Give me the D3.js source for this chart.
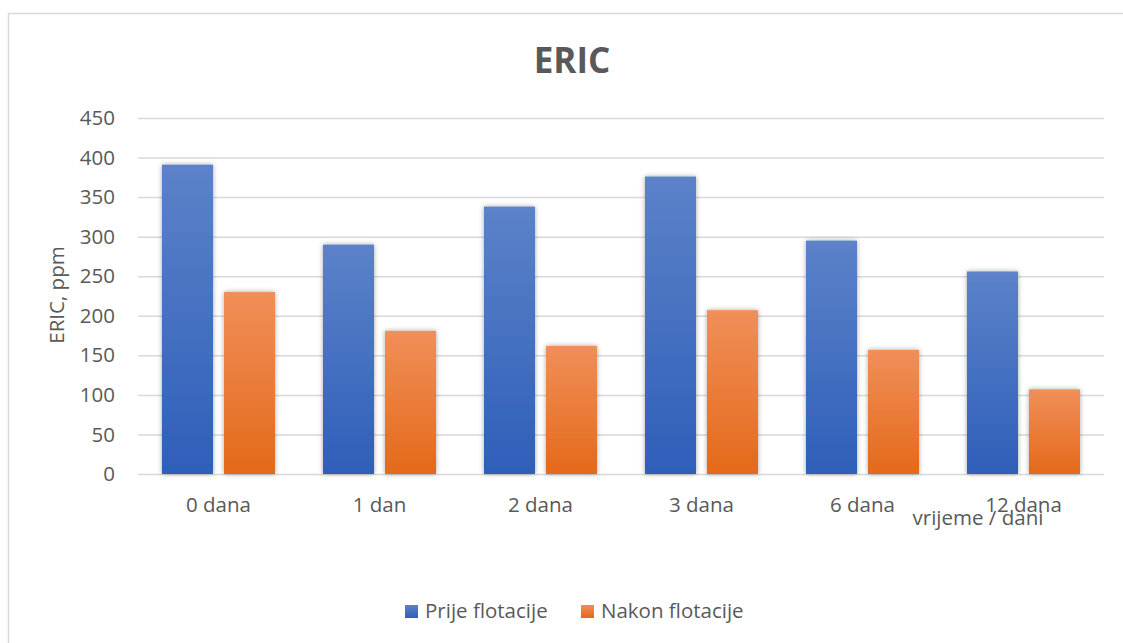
<!DOCTYPE html>
<html><head><meta charset="utf-8">
<script src="https://cdn.jsdelivr.net/npm/d3@7"></script>
<style>
html,body{margin:0;padding:0;background:#fff;}
svg{display:block;font-family:"Open Sans",sans-serif;}
</style></head><body>
<svg id="chart" width="1123" height="643"></svg>
<script>
const categories = ["0 dana","1 dan","2 dana","3 dana","6 dana","12 dana"];
const seriesNames = ["Prije flotacije","Nakon flotacije"];
const prije = [391, 290, 338, 376, 295, 256];
const nakon = [230, 181, 162, 207, 157, 107];
const yTicks = [0,50,100,150,200,250,300,350,400,450];
const title = "ERIC";
const yTitle = "ERIC, ppm";
const xTitle = "vrijeme / dani";

const svg = d3.select("#chart");
const W = 1123, H = 643;
const m = {left:138, right:1104, top:118, bottom:474};
const FS = "20.5px";

// border
svg.append("path").attr("d", `M8.5,${H} V13.5 H${W}`).attr("fill","none").attr("stroke","#d9d9d9").attr("stroke-width",1.5);

const defs = svg.append("defs");
function grad(id, top, bot){
  const g = defs.append("linearGradient").attr("id",id).attr("x1",0).attr("y1",0).attr("x2",0).attr("y2",1);
  g.append("stop").attr("offset","0%").attr("stop-color",top);
  g.append("stop").attr("offset","100%").attr("stop-color",bot);
}
grad("gBlue","#5c82c9","#2e5fb9");
grad("gOrange","#f08f59","#e4691a");
const f = defs.append("filter").attr("id","sh").attr("x","-20%").attr("y","-20%").attr("width","140%").attr("height","140%");
f.append("feDropShadow").attr("dx",0).attr("dy",0).attr("stdDeviation",2.5).attr("flood-color","#000").attr("flood-opacity",0.35);

const y = d3.scaleLinear().domain([0,450]).range([m.bottom, m.top]);
const x0 = d3.scaleBand().domain(categories).range([m.left, m.right]).padding(0);
const x1 = d3.scaleBand().domain(seriesNames).range([0, x0.bandwidth()]).paddingInner(0.177).paddingOuter(0.387);

// gridlines
const yAxis = d3.axisLeft(y).tickValues(yTicks).tickSize(-(m.right-m.left)).tickPadding(23);
const ga = svg.append("g").attr("transform",`translate(${m.left},0)`).call(yAxis);
ga.select(".domain").remove();
ga.selectAll(".tick line").attr("stroke","#d9d9d9").attr("stroke-width",1.5);
ga.selectAll(".tick text").attr("fill","#595959").style("font-size",FS).style("font-family","Open Sans");

const data = categories.map((c,i)=>({cat:c, vals:[{s:seriesNames[0],v:prije[i]},{s:seriesNames[1],v:nakon[i]}]}));
const fills = {"Prije flotacije":"url(#gBlue)","Nakon flotacije":"url(#gOrange)"};

const gg = svg.append("g").selectAll("g").data(data).join("g").attr("transform",d=>`translate(${x0(d.cat)},0)`);
gg.selectAll("rect").data(d=>d.vals).join("rect")
  .attr("x",d=>x1(d.s)).attr("width",x1.bandwidth())
  .attr("y",d=>y(d.v)).attr("height",d=>y(0)-y(d.v))
  .attr("fill",d=>fills[d.s]).attr("filter","url(#sh)");

// x axis labels
const xa = d3.axisBottom(x0).tickSize(0).tickPadding(23);
const gx = svg.append("g").attr("transform",`translate(0,${m.bottom})`).call(xa);
gx.select(".domain").remove();
gx.selectAll(".tick text").attr("fill","#595959").style("font-size",FS).style("font-family","Open Sans");

// titles
svg.append("text").attr("x",572).attr("y",73).attr("text-anchor","middle")
  .attr("fill","#595959").style("font-size","35px").style("font-weight","bold").text(title);
svg.append("text").attr("transform","translate(64,295) rotate(-90)").attr("text-anchor","middle")
  .attr("fill","#595959").style("font-size",FS).text(yTitle);
svg.append("text").attr("x",978).attr("y",525).attr("text-anchor","middle")
  .attr("fill","#595959").style("font-size",FS).text(xTitle);

// legend
const leg = svg.append("g");
const legX = [405, 581];
const legFill = ["url(#gBlue)","url(#gOrange)"];
seriesNames.forEach((s,i)=>{
  leg.append("rect").attr("x",legX[i]).attr("y",605).attr("width",13).attr("height",13).attr("fill",legFill[i]);
  leg.append("text").attr("x",legX[i]+20).attr("y",618).attr("fill","#595959").style("font-size",FS).text(s);
});
</script></body></html>
